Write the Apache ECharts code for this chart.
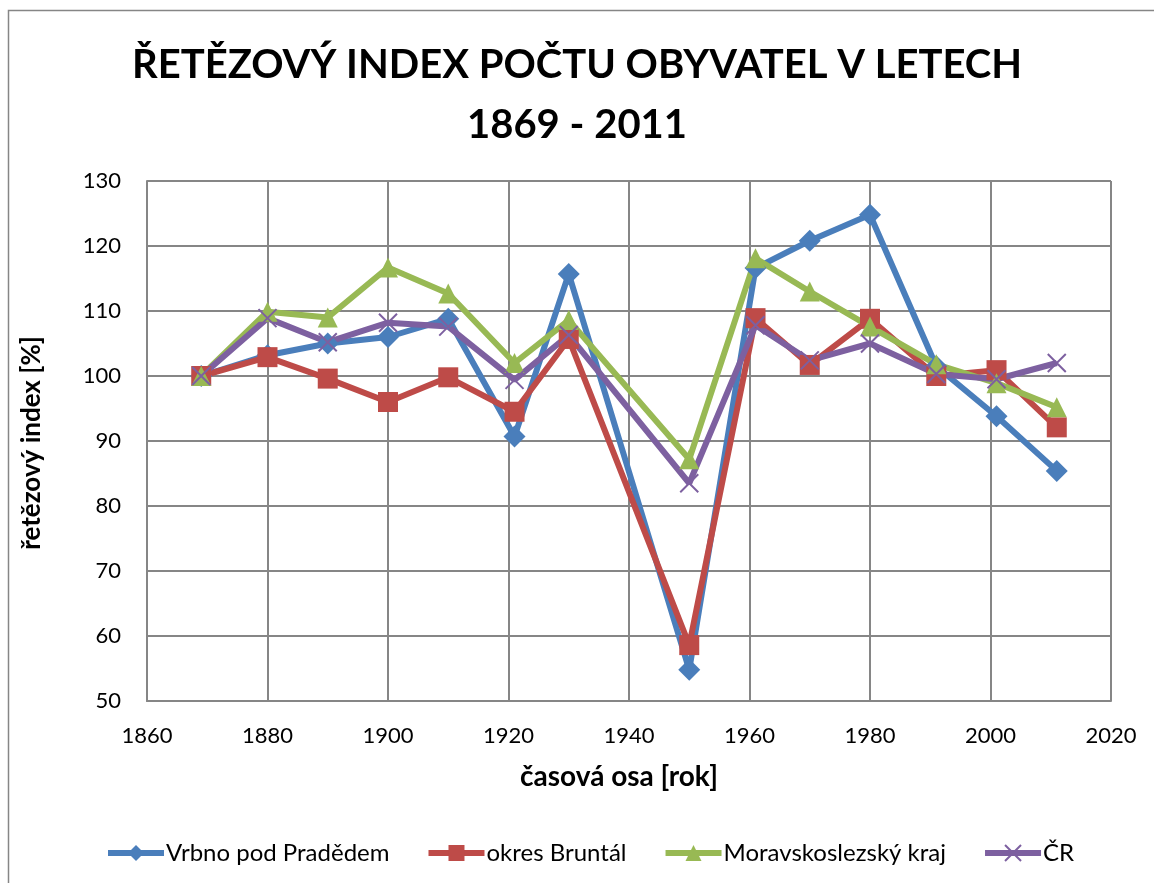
<!DOCTYPE html>
<html>
<head>
<meta charset="utf-8">
<script src="https://cdn.jsdelivr.net/npm/echarts@6/dist/echarts.min.js"></script>
<style>
html, body { margin: 0; padding: 0; background: #fff; }
#chart { width: 1154px; height: 883px; }
</style>
</head>
<body>
<div id="chart"></div>
<script>
// roky sčítání
var years = [1869, 1880, 1890, 1900, 1910, 1921, 1930, 1950, 1961, 1970, 1980, 1991, 2001, 2011];
// řetězové indexy [%]
var vrbno    = [100, 103.2, 105.0, 106.0, 108.8, 90.7, 115.7, 54.8, 116.6, 120.8, 124.8, 101.5, 93.8, 85.4];
var bruntal  = [100, 102.9, 99.6, 96.0, 99.8, 94.5, 105.7, 58.6, 108.9, 101.7, 108.8, 100.0, 100.9, 92.1];
var msKraj   = [100, 109.9, 109.0, 116.7, 112.7, 102.0, 108.6, 87.2, 118.1, 113.0, 107.6, 101.8, 98.9, 95.2];
var cr       = [100, 108.9, 105.2, 108.2, 107.6, 99.4, 106.3, 83.5, 107.8, 102.4, 105.0, 100.3, 99.5, 102.0];
var seriesNames = ['Vrbno pod Pradědem', 'okres Bruntál', 'Moravskoslezský kraj', 'ČR'];
var colors = ['#4a7ebb', '#be4b48', '#98b954', '#7d60a0'];

var chart = echarts.init(document.getElementById('chart'));
var FONT = 'Lato';

function pairs(vals) {
    return years.map(function (y, i) { return [y, vals[i]]; });
}

function lineSeries(name, vals, color, symbol, size) {
    return {
        name: name,
        type: 'line',
        data: pairs(vals),
        symbol: symbol,
        symbolSize: size,
        showAllSymbol: true,
        lineStyle: { color: color, width: 6 },
        itemStyle: { color: color, borderWidth: 0 },
        emphasis: { disabled: true }
    };
}

var crossPath = 'path://M0,0L10,10M10,0L0,10';

chart.setOption({
    animation: false,
    textStyle: { fontFamily: FONT },
    title: {
        text: 'ŘETĚZOVÝ INDEX POČTU OBYVATEL V LETECH\n1869 - 2011',
        left: 'center',
        top: 30,
        textStyle: { fontFamily: FONT, fontSize: 40, fontWeight: 'bold', color: '#000', lineHeight: 60 }
    },
    graphic: [{
        type: 'rect',
        shape: { x: 8.5, y: 10.5, width: 1300, height: 1000 },
        style: { fill: 'none', stroke: '#868686', lineWidth: 1.5 },
        silent: true
    }, {
        // popisek osy y
        type: 'text',
        x: 32,
        y: 443,
        rotation: Math.PI / 2,
        style: {
            text: 'řetězový index [%]',
            font: 'bold 26px Lato',
            fill: '#000',
            align: 'center',
            verticalAlign: 'middle'
        },
        silent: true
    }],
    grid: { left: 147, top: 181, width: 964, height: 520, containLabel: false },
    legend: {
        top: 836,
        left: 100,
        itemGap: 36,
        itemWidth: 56,
        itemHeight: 20,
        textStyle: { fontFamily: FONT, fontSize: 24, color: '#000', padding: [0, 0, 0, -3] },
        lineStyle: { width: 6 },
        data: seriesNames
    },
    xAxis: {
        type: 'value',
        min: 1860,
        max: 2020,
        interval: 20,
        name: 'časová osa [rok]',
        nameLocation: 'middle',
        nameGap: 62,
        nameTextStyle: { fontFamily: FONT, fontSize: 28, fontWeight: 'bold', color: '#000', padding: [0, 20, 0, 0] },
        axisLine: { lineStyle: { color: '#868686', width: 2 } },
        axisTick: { show: false },
        axisLabel: { fontSize: 22, color: '#000', margin: 24, formatter: function (v) { return String(v); } },
        splitLine: { show: true, lineStyle: { color: '#868686', width: 2 } }
    },
    yAxis: {
        type: 'value',
        min: 50,
        max: 130,
        interval: 10,
        axisLine: { show: true, lineStyle: { color: '#868686', width: 2 } },
        axisTick: { show: false },
        axisLabel: { fontSize: 22, color: '#000', margin: 26 },
        splitLine: { show: true, lineStyle: { color: '#868686', width: 2 } }
    },
    series: [
        lineSeries(seriesNames[0], vrbno, colors[0], 'diamond', 22),
        lineSeries(seriesNames[1], bruntal, colors[1], 'rect', 20),
        lineSeries(seriesNames[2], msKraj, colors[2], 'triangle', 20),
        {
            name: seriesNames[3],
            type: 'line',
            data: pairs(cr),
            symbol: crossPath,
            symbolSize: 18,
            showAllSymbol: true,
            lineStyle: { color: colors[3], width: 6 },
            itemStyle: { color: 'none', borderColor: colors[3], borderWidth: 2 },
            emphasis: { disabled: true }
        }
    ]
});
</script>
</body>
</html>
